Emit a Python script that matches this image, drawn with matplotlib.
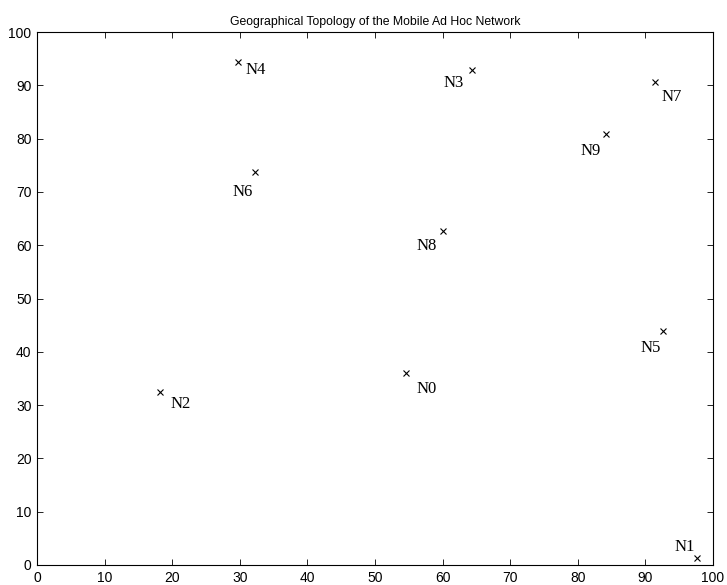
import matplotlib
matplotlib.use("Agg")
import matplotlib.pyplot as plt

# Data
node_names = ["N0", "N1", "N2", "N3", "N4", "N5", "N6", "N7", "N8", "N9"]
node_x = [54.6, 97.6, 18.2, 64.3, 29.7, 92.6, 32.2, 91.4, 60.1, 84.2]
node_y = [36.0, 1.3, 32.5, 92.9, 94.4, 43.9, 73.7, 90.6, 62.7, 80.9]
xticks = [0, 10, 20, 30, 40, 50, 60, 70, 80, 90, 100]
yticks = [0, 10, 20, 30, 40, 50, 60, 70, 80, 90, 100]
title = "Geographical Topology of the Mobile Ad Hoc Network"

# Label offsets (pixels, style)
label_offsets = [(21, -16), (-12, 11), (21, -12), (-18, -13), (18, -8),
                 (-12, -17), (-12, -20), (17, -15), (-17, -15), (-16, -17)]

fig = plt.figure(figsize=(7.27, 5.85), dpi=100)
ax = fig.add_axes([37/727, 20/585, 676/727, 533/585])

ax.plot(node_x, node_y, linestyle="none", marker="x", color="black",
        markersize=4.5, markeredgewidth=0.8)
for name, x, y, off in zip(node_names, node_x, node_y, label_offsets):
    ax.annotate(name, (x, y), xytext=off, textcoords="offset pixels",
                ha="center", va="center", fontsize=12,
                family=["Liberation Serif", "DejaVu Serif"])

ax.set_xlim(0, 100)
ax.set_ylim(0, 100)
ax.set_xticks(xticks)
ax.set_yticks(yticks)
ax.tick_params(direction="in", top=True, right=True, length=4, width=0.6,
               labelsize=10, pad=4)
for lab in ax.get_xticklabels() + ax.get_yticklabels():
    lab.set_family(["Liberation Sans", "DejaVu Sans"])
for s in ax.spines.values():
    s.set_linewidth(0.8)
ax.set_title(title, fontsize=8.8, family=["Liberation Sans", "DejaVu Sans"], pad=5)

fig.savefig("out.png", dpi=100)
